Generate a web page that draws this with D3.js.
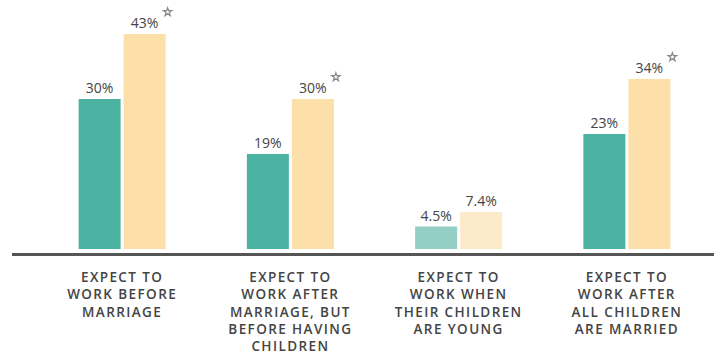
<!doctype html>
<html lang="en">
<head>
  <meta charset="UTF-8">
  <title>Expect to work</title>
  <script src="https://cdn.jsdelivr.net/npm/d3@7/dist/d3.min.js"></script>
  <style>
    body { margin: 0; background: #fff; }
    svg text { font-family: "Open Sans", sans-serif; fill: #444; }
  </style>
</head>
<body>
<div id="chart"></div>
<script>
  // data
  var categories = ["before", "afterMarriage", "young", "married"];
  var labelLines = [
    ["EXPECT TO", "WORK BEFORE", "MARRIAGE"],
    ["EXPECT TO", "WORK AFTER", "MARRIAGE, BUT", "BEFORE HAVING", "CHILDREN"],
    ["EXPECT TO", "WORK WHEN", "THEIR CHILDREN", "ARE YOUNG"],
    ["EXPECT TO", "WORK AFTER", "ALL CHILDREN", "ARE MARRIED"]
  ];
  var series = ["a", "b"];
  var valuesA = [30, 19, 4.5, 23];
  var valuesB = [43, 30, 7.4, 34];
  var valueLabelsA = ["30%", "19%", "4.5%", "23%"];
  var valueLabelsB = ["43%", "30%", "7.4%", "34%"];
  var starred = [true, true, false, true];   // star marks on the second bar
  var faded = [false, false, true, false];

  var width = 714, height = 355;
  var colors = { a: "#4cb3a2", b: "#fcdfa9" };
  var fadedColors = { a: "#93cfc4", b: "#fdeacb" };

  var svg = d3.select("#chart").append("svg")
      .attr("width", width)
      .attr("height", height);

  var x0 = d3.scaleBand()
      .domain(categories)
      .range([38, 711]);
  var x1 = d3.scaleBand()
      .domain(series)
      .range([-43.5, 43.5])
      .paddingInner(0.0667);
  var y = d3.scaleLinear()
      .domain([0, 50])
      .range([249, -1]);

  var rows = categories.map(function(c, i) {
    return [
      { cat: c, s: "a", v: valuesA[i], label: valueLabelsA[i], i: i },
      { cat: c, s: "b", v: valuesB[i], label: valueLabelsB[i], i: i }
    ];
  });

  var groups = svg.selectAll("g.group")
      .data(rows)
    .enter().append("g")
      .attr("class", "group")
      .attr("transform", function(d, i) {
        return "translate(" + (x0(categories[i]) + x0.bandwidth() / 2) + ",0)";
      });

  groups.selectAll("rect")
      .data(function(d) { return d; })
    .enter().append("rect")
      .attr("x", function(d) { return x1(d.s); })
      .attr("width", x1.bandwidth())
      .attr("y", function(d) { return y(d.v); })
      .attr("height", function(d) { return y(0) - y(d.v); })
      .attr("fill", function(d) { return faded[d.i] ? fadedColors[d.s] : colors[d.s]; });

  groups.selectAll("text.val")
      .data(function(d) { return d; })
    .enter().append("text")
      .attr("class", "val")
      .attr("x", function(d) { return x1(d.s) + x1.bandwidth() / 2; })
      .attr("y", function(d) { return y(d.v) - 6; })
      .attr("text-anchor", "middle")
      .style("font-size", "14px")
      .text(function(d) { return d.label; });

  // little stars next to the tall bars
  var star = d3.symbol().type(d3.symbolStar).size(22);
  groups.filter(function(d, i) { return starred[i]; })
    .append("path")
      .attr("d", star)
      .attr("transform", function(d) {
        var b = d[1];
        return "translate(" + (x1(b.s) + x1.bandwidth() + 2) + "," + (y(b.v) - 22) + ")";
      })
      .attr("fill", "none")
      .attr("stroke", "#888")
      .attr("stroke-width", 1.2);

  // baseline
  svg.append("line")
      .attr("x1", 12)
      .attr("x2", width)
      .attr("y1", 254.5)
      .attr("y2", 254.5)
      .attr("stroke", "#555")
      .attr("stroke-width", 3);

  // category labels
  var catLabels = groups.append("text")
      .attr("text-anchor", "middle")
      .style("font-size", "13.5px")
      .style("font-weight", "600")
      .style("letter-spacing", "1.4px");
  catLabels.selectAll("tspan")
      .data(function(d, i) { return labelLines[i]; })
    .enter().append("tspan")
      .attr("x", 0)
      .attr("y", function(d, j) { return 282 + j * 17.3; })
      .text(function(d) { return d; });
</script>
</body>
</html>
